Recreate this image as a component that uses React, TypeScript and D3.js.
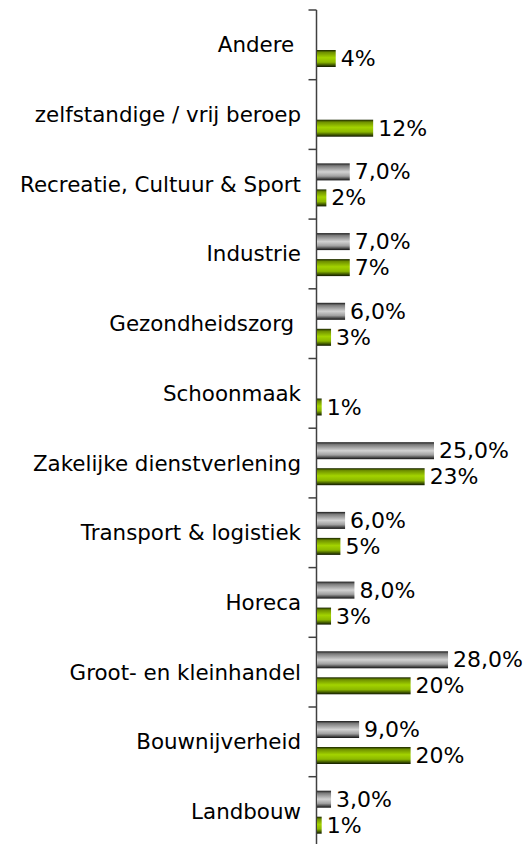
import React from "react";
import * as d3 from "d3";

const categories = [
  "Andere ",
  "zelfstandige / vrij beroep",
  "Recreatie, Cultuur & Sport",
  "Industrie",
  "Gezondheidszorg ",
  "Schoonmaak",
  "Zakelijke dienstverlening",
  "Transport & logistiek",
  "Horeca",
  "Groot- en kleinhandel",
  "Bouwnijverheid",
  "Landbouw",
];
const grayValues: (number | null)[] = [null, null, 7, 7, 6, null, 25, 6, 8, 28, 9, 3];
const greenValues: number[] = [4, 12, 2, 7, 3, 1, 23, 5, 3, 20, 20, 1];

const W = 530;
const H = 844;
const axisX = 316.5;
const top = 10;
const band = 69.7;

export default function App() {
  const y = d3
    .scaleBand<string>()
    .domain(categories)
    .range([top, top + band * categories.length])
    .paddingInner(0)
    .paddingOuter(0);
  const x = d3.scaleLinear().domain([0, 10]).range([axisX + 0.5, axisX + 0.5 + 46.8]);
  const fontFamily = "'DejaVu Sans', Verdana, sans-serif";
  const barH = 17;
  const ticks = d3.range(categories.length + 1).map((i) => top + band * i);
  return (
    <svg
      width={W}
      height={H}
      style={{ position: "absolute", left: 0, top: 0, background: "#fff" }}
    >
      <defs>
        <linearGradient id="gGray" x1="0" y1="0" x2="0" y2="1">
          <stop offset="0" stopColor="#1a1a1a" />
          <stop offset="0.14" stopColor="#7a7a7a" />
          <stop offset="0.5" stopColor="#d2d2d2" />
          <stop offset="0.75" stopColor="#a0a0a0" />
          <stop offset="0.9" stopColor="#4a4a4a" />
          <stop offset="1" stopColor="#111" />
        </linearGradient>
        <linearGradient id="gGreen" x1="0" y1="0" x2="0" y2="1">
          <stop offset="0" stopColor="#182300" />
          <stop offset="0.14" stopColor="#6f9000" />
          <stop offset="0.45" stopColor="#a3d300" />
          <stop offset="0.72" stopColor="#8cb800" />
          <stop offset="0.9" stopColor="#3a4f00" />
          <stop offset="1" stopColor="#101800" />
        </linearGradient>
      </defs>
      <line x1={axisX} x2={axisX} y1={top} y2={H + 10} stroke="#404040" strokeWidth={1.5} />
      {ticks.map((t, i) => (
        <line key={i} x1={axisX - 8} x2={axisX} y1={t} y2={t} stroke="#404040" strokeWidth={1.5} />
      ))}
      {categories.map((c, i) => {
        const b = y(c)!;
        const g = grayValues[i];
        const gv = greenValues[i];
        const grayY = b + 14;
        const greenY = b + 40;
        return (
          <g key={c}>
            <text
              x={301}
              y={b + band / 2}
              textAnchor="end"
              dominantBaseline="central"
              fontFamily={fontFamily}
              fontSize={21.4}
              fill="#000"
              style={{ whiteSpace: "pre" }}
            >
              {c}
            </text>
            {g !== null && (
              <>
                <rect x={x(0)} y={grayY} width={x(g) - x(0)} height={barH} fill="url(#gGray)" />
                <text
                  x={x(g) + 5}
                  y={grayY + barH / 2}
                  dominantBaseline="central"
                  fontFamily={fontFamily}
                  fontSize={22}
                  fill="#000"
                >
                  {g.toFixed(1).replace(".", ",") + "%"}
                </text>
              </>
            )}
            <rect x={x(0)} y={greenY} width={x(gv) - x(0)} height={barH} fill="url(#gGreen)" />
            <text
              x={x(gv) + 5}
              y={greenY + barH / 2}
              dominantBaseline="central"
              fontFamily={fontFamily}
              fontSize={22}
              fill="#000"
            >
              {gv + "%"}
            </text>
          </g>
        );
      })}
    </svg>
  );
}
